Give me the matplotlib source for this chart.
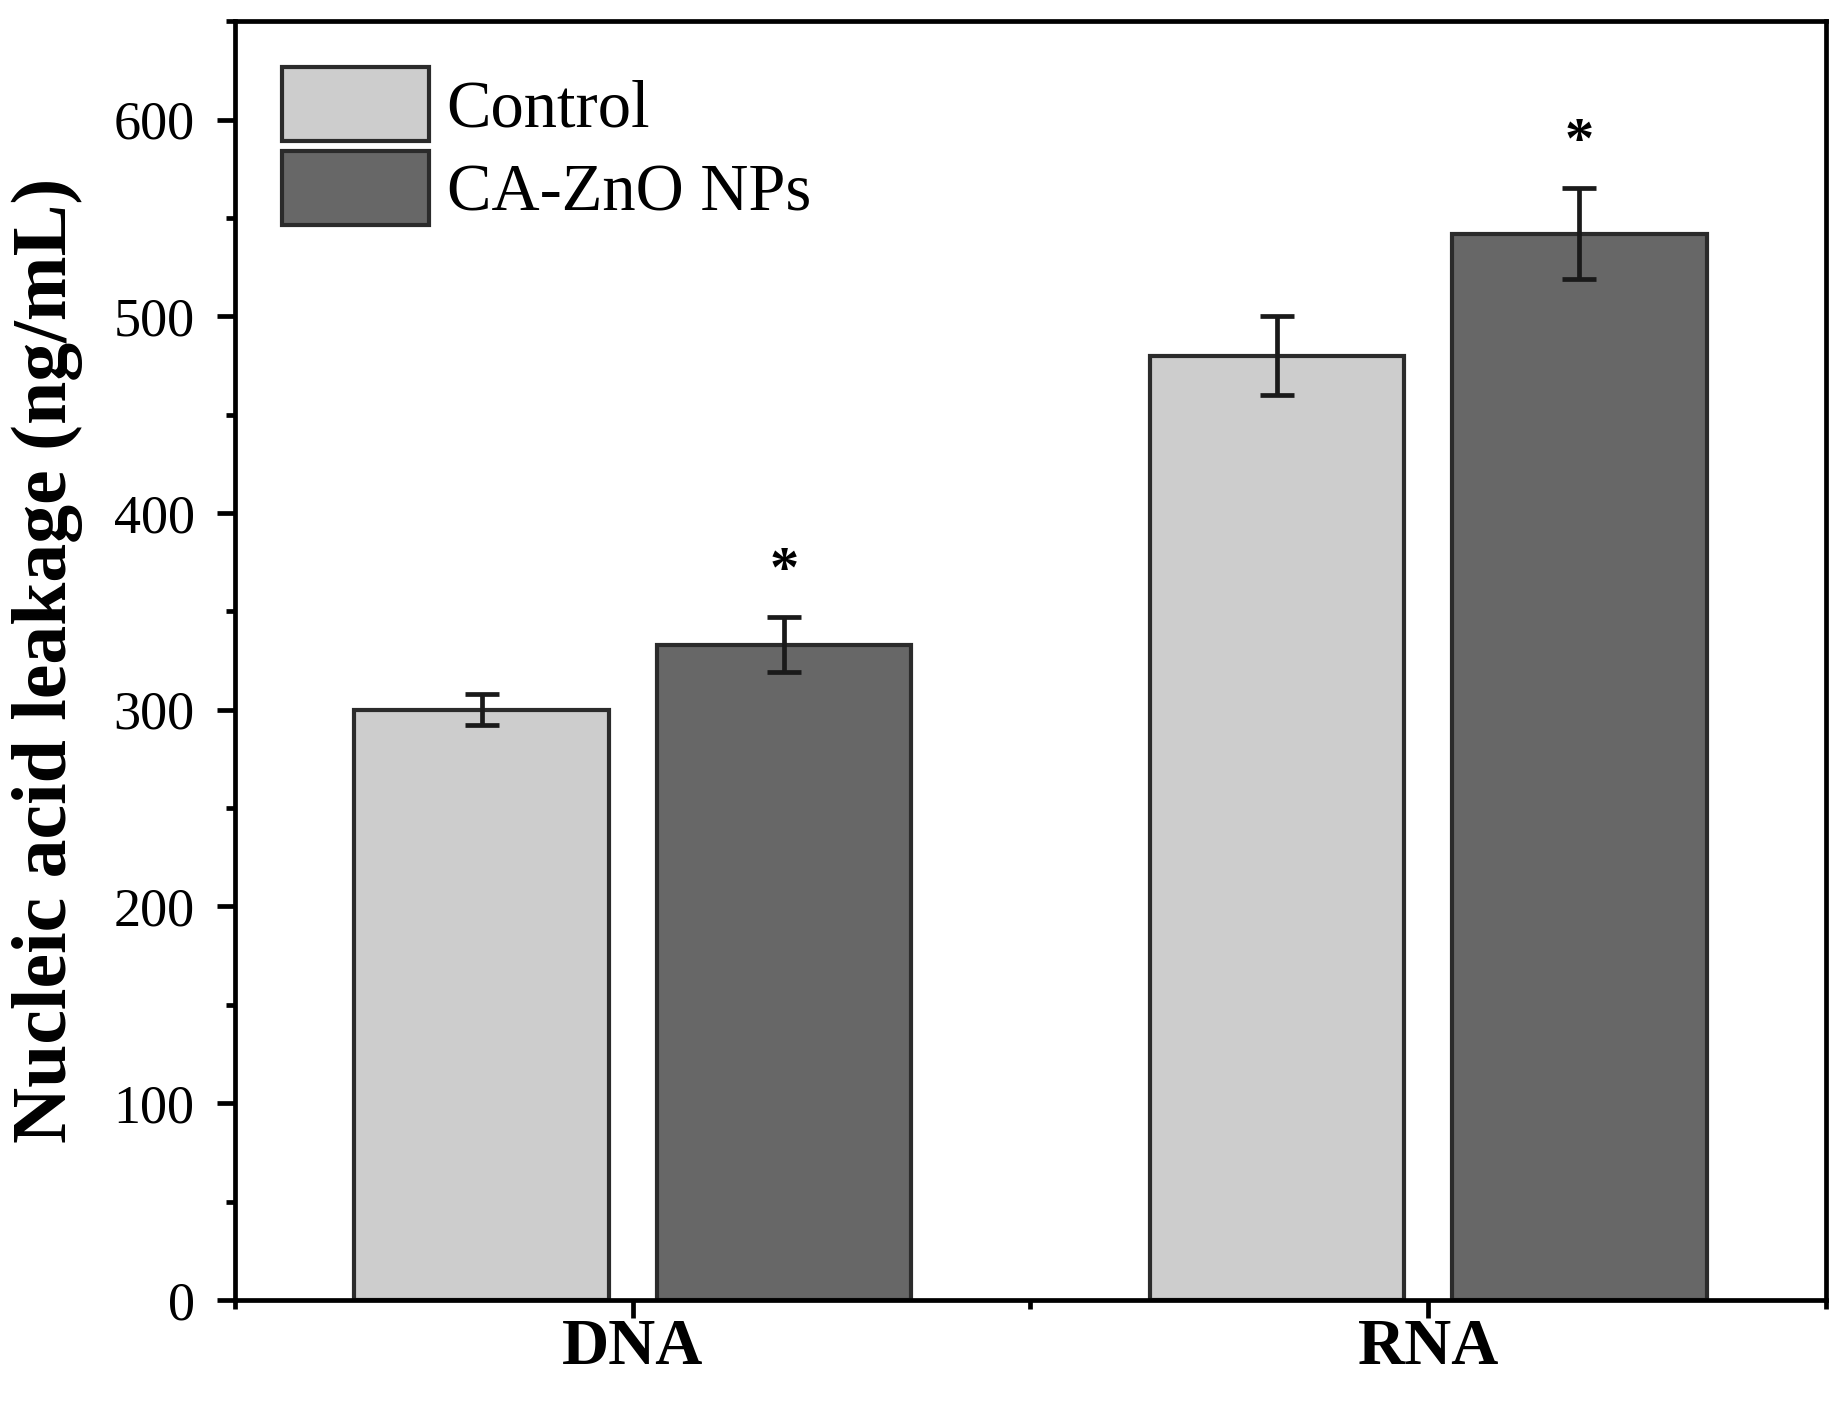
import numpy as np
import matplotlib
matplotlib.use("Agg")
import matplotlib.pyplot as plt
from matplotlib.ticker import MultipleLocator

# data
groups = ["DNA", "RNA"]
series = ["Control", "CA-ZnO NPs"]
control_vals = [300, 480]
control_err = [8, 20]
treated_vals = [333, 542]
treated_err = [14, 23]
signif = ["*", "*"]

colors = ["#cdcdcd", "#676767"]
edge = "#2b2b2b"

plt.rcParams["font.family"] = ["Liberation Serif", "DejaVu Serif"]

fig = plt.figure(figsize=(18.41, 14.11), dpi=100)
ax = fig.add_axes([0.1276, 0.0787, 0.8642, 0.9063])

x = np.arange(1, len(groups) + 1)
w = 0.32
off = 0.19

err_kw = dict(ecolor="#1a1a1a", elinewidth=3.4, capsize=12, capthick=3.4)
ax.bar(x - off, control_vals, w, color=colors[0], edgecolor=edge, linewidth=3,
       yerr=control_err, error_kw=err_kw, label=series[0], zorder=2)
ax.bar(x + off, treated_vals, w, color=colors[1], edgecolor=edge, linewidth=3,
       yerr=treated_err, error_kw=err_kw, label=series[1], zorder=2)

# significance marks above the treated bars
for xi, v, e, s in zip(x + off, treated_vals, treated_err, signif):
    ax.annotate(s, (xi, v + e), xytext=(0, 14), textcoords="offset points",
                ha="center", va="bottom", fontsize=42, fontweight="bold")

ax.set_xlim(0.5, 2.5)
ax.set_ylim(0, 650)
ax.set_xticks(x)
ax.set_xticklabels(groups, fontsize=47, fontweight="bold")
ax.xaxis.set_minor_locator(MultipleLocator(1.0, offset=0.5))
ax.yaxis.set_major_locator(MultipleLocator(100))
ax.yaxis.set_minor_locator(MultipleLocator(50))

for sp in ax.spines.values():
    sp.set_linewidth(3.4)
ax.tick_params(which="major", direction="out", length=13, width=3.4,
               top=False, right=False)
ax.tick_params(which="minor", direction="out", length=6.5, width=3.4,
               top=False, right=False)
ax.tick_params(axis="y", labelsize=39, pad=16)
ax.tick_params(axis="x", pad=0)

ax.set_ylabel("Nucleic acid leakage (ng/mL)", fontsize=56, fontweight="bold",
              labelpad=22)

leg = ax.legend(loc="upper left", bbox_to_anchor=(0.0295, 0.964), borderaxespad=0,
                borderpad=0, frameon=False, fontsize=48, handlelength=2.2,
                handleheight=1.32, labelspacing=0.16, handletextpad=0.27)

plt.savefig("out.png", dpi=100)
